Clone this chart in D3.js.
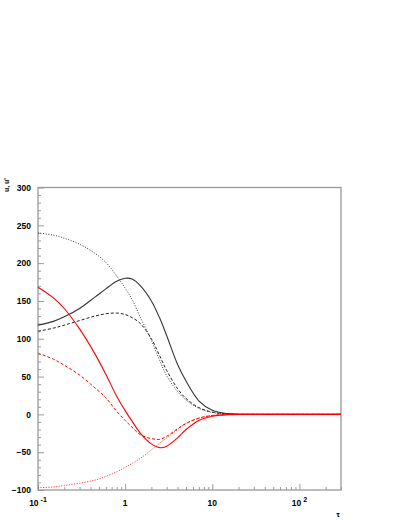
<!DOCTYPE html>
<html lang="en">
<head>
  <meta charset="UTF-8" />
  <title>u, u' vs tau</title>
  <script src="https://d3js.org/d3.v7.min.js"></script>
  <style>
    body { margin: 0; background: white; }
    svg { display: block; }
    text { font-family: "Liberation Sans", Arial, sans-serif; font-weight: bold; fill: #000; }
  </style>
</head>
<body>

<svg width="409" height="529"></svg>

<script>
  // tau sample points (shared by all curves)
  const tau = [0.1, 0.15, 0.2, 0.3, 0.45, 0.6, 0.8, 1.0, 1.2, 1.5, 2.0, 2.5, 3.0, 4.0, 5.0, 7.0, 10, 15, 20, 30, 50, 100, 300];

  // black curves
  const uSolid  = [118, 123, 129, 140, 155, 166, 176, 180, 179, 170, 150, 127, 104, 66, 44, 18, 5.5, 1, 0.2, 0, 0, 0, 0];
  const uDashed = [110, 114, 118, 124, 130, 133, 134, 132, 128, 120, 100, 77, 58, 34, 21, 9, 3, 0.5, 0.1, 0, 0, 0, 0];
  const uDotted = [240, 237, 233, 225, 213, 201, 183, 167, 152, 128, 98, 71, 51, 30, 19, 8, 2.5, 0.4, 0.1, 0, 0, 0, 0];

  // red curves
  const rSolid  = [168, 154, 140, 113, 80, 53, 24, 5, -9, -25, -39, -44, -42, -31, -20, -8, -2.5, -0.5, 0, 0, 0, 0, 0];
  const rDashed = [81, 73, 65, 52, 35, 22, 4, -8, -17, -27, -32, -33, -29, -19, -12, -5, -1.5, -0.3, 0, 0, 0, 0, 0];
  const rDotted = [-97, -96, -94, -91, -87, -82, -76, -70, -65, -58, -47, -38, -31, -20, -12, -5, -1.5, -0.3, 0, 0, 0, 0, 0];

  // tick labels
  const yMajorTicks = [-100, -50, 0, 50, 100, 150, 200, 250, 300];
  const xMajorTicks = [0.1, 1, 10, 100];
  const xTickBase = ["10", "1", "10", "10"];
  const xTickExp  = ["-1", "", "", "2"];

  const svg = d3.select("svg");
  const frame = { left: 38, right: 341, top: 187.5, bottom: 490 };

  const xScale = d3.scaleLog().domain([0.1, 300]).range([frame.left, frame.right]);
  const yScale = d3.scaleLinear().domain([-100, 300]).range([frame.bottom, frame.top]);

  const frameColor = "#9a9a9a";

  // Y axis: minor ticks every 10, major every 50, ticks pointing inside
  const yMinor = d3.range(-100, 301, 10).filter(v => v % 50 !== 0);
  svg.append("g")
    .attr("transform", `translate(${frame.left},0)`)
    .call(d3.axisLeft(yScale).tickValues(yMinor).tickSize(-3).tickFormat(""))
    .call(g => g.select(".domain").remove())
    .selectAll("line").attr("stroke", frameColor);

  const yAx = svg.append("g")
    .attr("transform", `translate(${frame.left},0)`)
    .call(d3.axisLeft(yScale).tickValues(yMajorTicks).tickSize(-6).tickPadding(7).tickFormat(d3.format("d")));
  yAx.select(".domain").remove();
  yAx.selectAll("line").attr("stroke", frameColor);
  yAx.selectAll("text")
    .attr("font-size", 8.5)
    .attr("font-family", "Liberation Sans, Arial, sans-serif")
    .attr("font-weight", "bold")
    .attr("fill", "#000");

  // X axis: log minor ticks 2..9 per decade
  const xMinor = [];
  [0.1, 1, 10, 100].forEach(d => {
    for (let k = 2; k <= 9; k++) if (d * k <= 300) xMinor.push(d * k);
  });
  svg.append("g")
    .attr("transform", `translate(0,${frame.bottom})`)
    .call(d3.axisBottom(xScale).tickValues(xMinor).tickSize(-3).tickFormat(""))
    .call(g => g.select(".domain").remove())
    .selectAll("line").attr("stroke", frameColor);
  svg.append("g")
    .attr("transform", `translate(0,${frame.bottom})`)
    .call(d3.axisBottom(xScale).tickValues(xMajorTicks).tickSize(-6).tickFormat(""))
    .call(g => g.select(".domain").remove())
    .selectAll("line").attr("stroke", frameColor);

  // x tick labels with superscripts
  const xl = svg.append("g").selectAll("text")
    .data(xMajorTicks)
    .enter().append("text")
    .attr("x", d => xScale(d))
    .attr("y", frame.bottom + 16)
    .attr("text-anchor", "middle")
    .attr("font-size", 8.5);
  xl.append("tspan").text((d, i) => xTickBase[i]);
  xl.append("tspan")
    .attr("dy", -4.5)
    .attr("dx", 2)
    .attr("font-size", 7)
    .text((d, i) => xTickExp[i]);

  // frame
  svg.append("rect")
    .attr("x", frame.left).attr("y", frame.top)
    .attr("width", frame.right - frame.left).attr("height", frame.bottom - frame.top)
    .attr("fill", "none")
    .attr("stroke", frameColor)
    .attr("stroke-width", 1.3);

  // axis titles
  svg.append("text")
    .attr("transform", `translate(8.5,178) rotate(-90)`)
    .attr("text-anchor", "end")
    .attr("font-size", 7)
    .text("u, u'");
  svg.append("text")
    .attr("x", 338).attr("y", 517)
    .attr("text-anchor", "middle")
    .attr("font-size", 8)
    .attr("font-weight", "normal")
    .text("τ");

  // curves
  const line = d3.line()
    .x(d => xScale(d[0]))
    .y(d => yScale(d[1]))
    .curve(d3.curveCatmullRom.alpha(0.5));

  const series = [
    { values: uDotted, color: "#222", dash: "1,1.6", width: 0.9 },
    { values: uDashed, color: "#222", dash: "3,2", width: 1 },
    { values: uSolid,  color: "#333", dash: null, width: 1.1 },
    { values: rDotted, color: "#ff0000", dash: "1,1.6", width: 0.9 },
    { values: rDashed, color: "#ff0000", dash: "3,2", width: 1 },
    { values: rSolid,  color: "#ff0000", dash: null, width: 1.1 }
  ];

  svg.append("g")
    .selectAll("path")
    .data(series)
    .enter()
    .append("path")
    .attr("d", s => line(tau.map((t, i) => [t, s.values[i]])))
    .attr("fill", "none")
    .attr("stroke", s => s.color)
    .attr("stroke-width", s => s.width)
    .attr("stroke-dasharray", s => s.dash);
</script>

</body>
</html>
